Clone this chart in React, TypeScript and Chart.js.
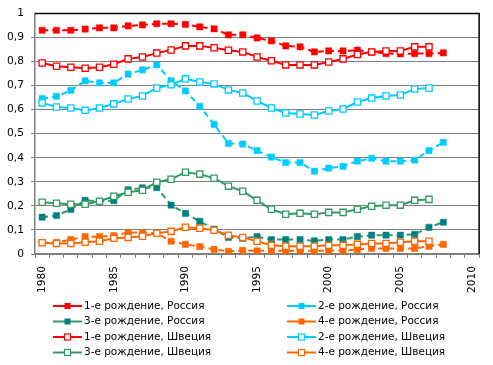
import { useEffect, useRef } from 'react';
import { Chart, registerables } from 'chart.js';
Chart.register(...registerables);

const years = ['1980','1981','1982','1983','1984','1985','1986','1987','1988','1989','1990','1991','1992','1993','1994','1995','1996','1997','1998','1999','2000','2001','2002','2003','2004','2005','2006','2007','2008','2009','2010'];
const shownYears = ['1980','1985','1990','1995','2000','2005','2010'];

const first_RU = [0.930,0.930,0.930,0.935,0.940,0.940,0.948,0.952,0.957,0.957,0.954,0.944,0.936,0.911,0.911,0.898,0.886,0.865,0.861,0.840,0.844,0.844,0.847,0.840,0.833,0.832,0.833,0.833,0.836];
const second_RU = [0.646,0.655,0.680,0.720,0.711,0.711,0.748,0.765,0.786,0.720,0.678,0.614,0.539,0.460,0.457,0.430,0.403,0.380,0.380,0.344,0.357,0.364,0.386,0.398,0.386,0.386,0.390,0.430,0.464];
const third_RU = [0.153,0.160,0.185,0.223,0.218,0.222,0.267,0.275,0.276,0.203,0.169,0.136,0.103,0.069,0.065,0.072,0.060,0.060,0.060,0.055,0.060,0.060,0.072,0.078,0.078,0.078,0.082,0.111,0.132];
const fourth_RU = [0.047,0.048,0.060,0.072,0.072,0.076,0.089,0.089,0.086,0.053,0.040,0.031,0.019,0.011,0.015,0.013,0.013,0.013,0.013,0.013,0.014,0.015,0.018,0.023,0.023,0.023,0.023,0.032,0.040];
const first_SE = [0.794,0.780,0.776,0.772,0.776,0.789,0.811,0.819,0.835,0.848,0.865,0.865,0.857,0.847,0.840,0.819,0.803,0.786,0.786,0.786,0.798,0.811,0.829,0.840,0.844,0.844,0.861,0.861];
const second_SE = [0.628,0.611,0.607,0.597,0.607,0.624,0.644,0.657,0.690,0.703,0.728,0.715,0.707,0.682,0.669,0.636,0.607,0.586,0.582,0.578,0.594,0.603,0.632,0.648,0.657,0.661,0.686,0.690];
const third_SE = [0.215,0.211,0.207,0.207,0.219,0.240,0.257,0.265,0.298,0.311,0.340,0.332,0.315,0.282,0.261,0.223,0.186,0.165,0.169,0.165,0.173,0.173,0.186,0.198,0.203,0.203,0.223,0.227];
const fourth_SE = [0.047,0.044,0.044,0.049,0.053,0.065,0.069,0.074,0.086,0.094,0.111,0.107,0.099,0.078,0.069,0.053,0.036,0.032,0.032,0.032,0.036,0.036,0.040,0.044,0.044,0.049,0.053,0.053];

const seriesNames = [
  '1-е рождение, Россия', '2-е рождение, Россия',
  '3-е рождение, Россия', '4-е рождение, Россия',
  '1-е рождение, Швеция', '2-е рождение, Швеция',
  '3-е рождение, Швеция', '4-е рождение, Швеция',
];

const FONT = 'DejaVu Sans';
const FS = 10.67;

type S = { name: string; data: number[]; line: string; marker: string; filled: boolean };

const series: S[] = [
  { name: seriesNames[0], data: first_RU, line: '#FF0000', marker: '#FF0000', filled: true },
  { name: seriesNames[1], data: second_RU, line: '#00CCFF', marker: '#00CCFF', filled: true },
  { name: seriesNames[2], data: third_RU, line: '#339966', marker: '#008080', filled: true },
  { name: seriesNames[3], data: fourth_RU, line: '#FF6600', marker: '#FF6600', filled: true },
  { name: seriesNames[4], data: first_SE, line: '#FF0000', marker: '#FF0000', filled: false },
  { name: seriesNames[5], data: second_SE, line: '#00CCFF', marker: '#00CCFF', filled: false },
  { name: seriesNames[6], data: third_SE, line: '#339966', marker: '#339966', filled: false },
  { name: seriesNames[7], data: fourth_SE, line: '#FF6600', marker: '#FF6600', filled: false },
];

const borderPlugin = {
  id: 'frame',
  afterDraw(chart: any) {
    const { ctx, chartArea: a } = chart;
    ctx.save();
    ctx.strokeStyle = '#000';
    ctx.lineWidth = 1.5;
    ctx.beginPath();
    ctx.moveTo(a.left, a.top);
    ctx.lineTo(a.right, a.top);
    ctx.lineTo(a.right, a.bottom);
    ctx.stroke();
    ctx.restore();
  },
};

const legendPlugin = {
  id: 'customLegend',
  afterDraw(chart: any) {
    const { ctx } = chart;
    const cols = [53, 287];
    const rows = [306, 321.5, 337, 352.5];
    ctx.save();
    series.forEach((s, i) => {
      const x = cols[i % 2];
      const y = rows[Math.floor(i / 2)];
      ctx.strokeStyle = s.line;
      ctx.lineWidth = 2;
      ctx.setLineDash([]);
      ctx.beginPath();
      ctx.moveTo(x, y);
      ctx.lineTo(x + 29, y);
      ctx.stroke();
      const cx = x + 14.5;
      if (s.filled) {
        ctx.fillStyle = s.marker;
        ctx.fillRect(cx - 3, y - 3, 6, 6);
      } else {
        ctx.fillStyle = '#fff';
        ctx.fillRect(cx - 3, y - 3, 6, 6);
        ctx.strokeStyle = s.marker;
        ctx.lineWidth = 1.2;
        ctx.strokeRect(cx - 3, y - 3, 6, 6);
      }
      ctx.fillStyle = '#000';
      ctx.font = `${FS - 0.2}px "${FONT}"`;
      ctx.textBaseline = 'middle';
      ctx.textAlign = 'left';
      ctx.fillText(s.name, x + 31, y);
    });
    ctx.restore();
  },
};

export default function App() {
  const ref = useRef<HTMLCanvasElement>(null);
  useEffect(() => {
    document.body.style.margin = '0';
    if (!ref.current) return;
    const datasets = series.map((s) => ({
      label: s.name,
      data: s.data,
      borderColor: s.line,
      borderWidth: 2,
      borderDash: s.filled ? [6, 4] : [],
      backgroundColor: s.filled ? s.marker : '#FFFFFF',
      pointStyle: 'rect',
      pointRadius: 4.4,
      pointBorderColor: s.marker,
      pointBackgroundColor: s.filled ? s.marker : '#FFFFFF',
      pointBorderWidth: s.filled ? 0.5 : 1.3,
      tension: 0,
      fill: false,
      spanGaps: false,
      order: s.filled ? 1 : 0,
    }));
    const chart = new Chart(ref.current, {
      type: 'line',
      data: { labels: years, datasets },
      options: {
        responsive: false,
        animation: false,
        layout: { padding: { top: 13, right: 13, left: 0, bottom: 0 } },
        plugins: { legend: { display: false }, tooltip: { enabled: false } },
        scales: {
          x: {
            type: 'category',
            offset: true,
            afterFit: (axis: any) => { axis.height = 111; },
            grid: { offset: true, drawOnChartArea: false, drawTicks: true, tickLength: 4, color: '#808080', lineWidth: 1 },
            border: { color: '#808080', width: 1.5 },
            ticks: {
              autoSkip: false,
              minRotation: 90,
              maxRotation: 90,
              padding: 8,
              color: '#000',
              font: { family: FONT, size: FS },
              callback: (_v: any, idx: number) => (shownYears.includes(years[idx]) ? years[idx] : ''),
            },
          },
          y: {
            min: 0,
            max: 1,
            afterFit: (axis: any) => { axis.width = 35; },
            grid: {
              color: (c: any) => (c.tick && c.tick.value >= 1 ? 'rgba(0,0,0,0)' : '#808080'),
              lineWidth: 1,
              tickLength: 4,
            },
            border: { color: '#808080', width: 1.5 },
            ticks: {
              stepSize: 0.1,
              padding: 7,
              color: '#000',
              font: { family: FONT, size: FS },
              callback: (v: any) => {
                const n = Math.round(Number(v) * 10) / 10;
                if (n === 0) return '0';
                if (n === 1) return '1';
                return n.toFixed(1).replace('.', ',');
              },
            },
          },
        },
      },
      plugins: [borderPlugin, legendPlugin],
    });
    return () => chart.destroy();
  }, []);
  return <canvas ref={ref} width={493} height={365} style={{ display: 'block', width: 493, height: 365 }} />;
}
